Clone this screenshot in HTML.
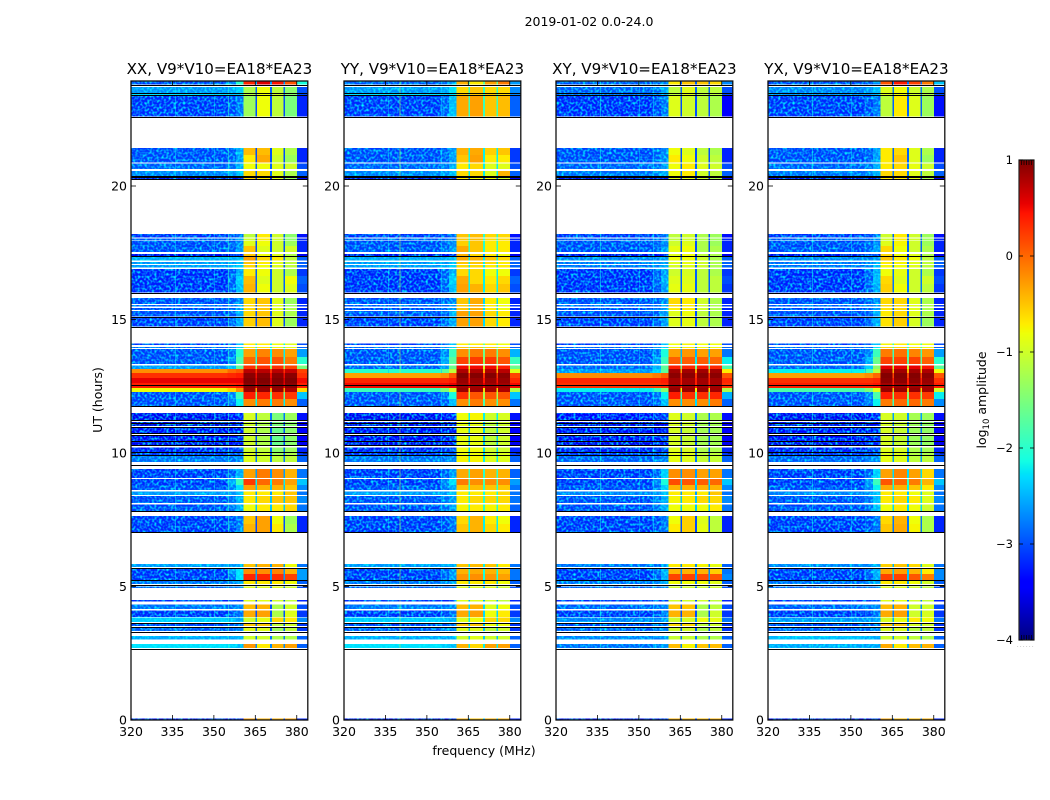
<!DOCTYPE html>
<html>
<head>
<meta charset="utf-8">
<title>2019-01-02 0.0-24.0</title>
<style>
html,body{margin:0;padding:0;background:#fff;}
svg{display:block;}
text{font-family:"DejaVu Sans","Liberation Sans",sans-serif;fill:#000;}
</style>
</head>
<body>
<svg id="figure" xmlns="http://www.w3.org/2000/svg" width="1050" height="800" viewBox="0 0 1050 800">
<defs id="figure-defs">
<filter id="speckle" x="0" y="0" width="100%" height="100%" color-interpolation-filters="sRGB">
<feTurbulence type="fractalNoise" baseFrequency="0.42" numOctaves="1" seed="7"/>
<feColorMatrix type="matrix" values="0 0 0 0 0  2.6 0 0 0 -1.1  0 0 0 0 0  0 0 0 0 1"/>
</filter>
</defs>
</svg>
<script>
const panelTitles = ["XX, V9*V10=EA18*EA23", "YY, V9*V10=EA18*EA23", "XY, V9*V10=EA18*EA23", "YX, V9*V10=EA18*EA23"];
const xTicks = [320, 335, 350, 365, 380];
const yTicks = [0, 5, 10, 15, 20];
const colorbarTicks = [1, 0, -1, -2, -3, -4];
const freqEdges = [320, 355, 358, 360.7, 365, 365.7, 370.4, 371, 375.2, 375.8, 380, 384];
const freqColumn = [0, 1, 2, 3, 7, 4, 7, 5, 7, 6, 8];
const rowFromUT = [23.80,23.48,23.41,22.60,21.16,20.88,20.64,20.37,20.26,18.07,17.96,17.75,17.53,17.38,17.21,17.08,16.95,16.63,16.33,16.01,15.58,15.49,15.36,15.12,14.74,14.04,13.93,13.60,13.33,13.15,13.00,12.81,12.62,12.43,12.28,12.02,11.76,11.24,11.01,10.75,10.45,10.30,10.04,9.93,9.67,9.06,8.80,8.61,8.43,8.13,7.83,7.34,7.04,5.73,5.47,5.24,5.09,4.94,4.44,4.16,3.86,3.67,3.52,3.33,3.01,2.70,0];
const rowToUT = [23.93,23.71,23.46,23.39,21.42,21.16,20.84,20.56,20.33,18.20,18.03,17.94,17.75,17.45,17.34,17.15,17.04,16.89,16.63,16.33,15.81,15.54,15.43,15.32,15.09,14.11,13.97,13.90,13.60,13.28,13.15,13.00,12.81,12.62,12.43,12.28,12.02,11.50,11.16,10.97,10.67,10.43,10.21,10.00,9.89,9.40,9.03,8.80,8.55,8.39,8.07,7.64,7.34,5.84,5.69,5.47,5.21,5.00,4.49,4.32,4.10,3.84,3.63,3.46,3.15,2.85,0.06];
const flaggedUT = [23.78,23.47,23.41,22.60,20.39,20.34,20.26,17.38,16.00,15.11,14.73,12.53,11.75,11.22,11.12,10.97,10.74,10.69,10.45,10.29,10.03,9.93,9.56,7.83,7.03,5.71,5.24,5.06,3.65,3.48,3.31,2.67];
const streakFreqs = [[336,350,355.2],[336,340,355.2],[336,350,355.2],[336,350,355.2]];
const streakLevels = [[-2.3,-2.5,-2.0],[-2.4,-1.2,-2.4],[-2.2,-2.5,-2.3],[-2.2,-2.4,-2.7]];
const amplitudeXX = [
[-3.1,-2.8,-2.0,.35,.6,.45,.1,-2.6,-2.1],[-2.7,-2.6,-2.4,-1.2,-.8,-1.1,-1.4,-2.9,-3.0],[-2.3,-2.4,-2.4,-1.1,-.8,-1.0,-1.4,-2.9,-3.0],[-3.2,-3.1,-2.9,-1.3,-.8,-1.1,-1.5,-3.0,-3.2],
[-3.1,-3.0,-2.6,-.45,-.45,-.9,-1.2,-3.0,-3.2],[-3.1,-3.0,-2.7,-.7,-.35,-1.0,-1.3,-3.0,-3.2],[-3.0,-2.9,-2.6,-.8,-.8,-.9,-1.0,-2.9,-3.0],[-2.8,-2.7,-2.5,-.6,-.6,-.9,-1.2,-2.9,-2.9],[-3.5,-3.4,-3.3,-.6,-.7,-.9,-1.3,-3.2,-3.5],
[-3.2,-3.1,-2.9,-1.1,-.7,-1.0,-1.4,-2.9,-3.3],[-3.0,-3.0,-2.8,-1.0,-.7,-1.0,-1.4,-2.9,-3.2],[-3.1,-3.0,-2.8,-.9,-.8,-1.0,-1.3,-3.0,-3.2],[-3.1,-3.0,-2.7,-.5,-.9,-1.0,-1.0,-3.0,-3.2],[-3.5,-3.4,-3.3,-.5,-.8,-.9,-1.2,-3.2,-3.5],
[-2.6,-2.6,-2.5,-.3,-.6,-.7,-1.1,-2.9,-2.9],[-2.7,-2.7,-2.5,-.5,-.7,-.9,-1.1,-2.9,-2.9],[-2.7,-2.6,-2.4,-.6,-.8,-.9,-1.1,-2.9,-2.9],[-3.25,-3.0,-2.6,-.7,-.8,-1.0,-1.2,-2.9,-3.1],[-3.25,-3.0,-2.4,-.45,-.9,-1.0,-.8,-2.9,-2.9],[-3.25,-3.0,-2.5,-.4,-.8,-1.0,-.9,-2.9,-3.0],
[-3.1,-3.0,-2.8,-.6,-.5,-.9,-1.3,-3.0,-3.2],[-3.0,-2.9,-2.7,-.6,-.5,-.9,-1.3,-3.0,-3.1],[-3.1,-3.0,-2.7,-.6,-.5,-.9,-1.2,-3.0,-3.2],[-3.1,-3.0,-2.6,-.6,-.5,-.9,-1.2,-3.0,-3.2],[-3.2,-3.0,-2.6,-.55,-.45,-.9,-1.3,-3.0,-3.2],
[-3.2,-3.0,-2.5,-.7,-.7,-.8,-.9,-2.2,-3.0],[-3.0,-2.9,-2.4,-.7,-.7,-.8,-.9,-2.2,-2.9],[-3.1,-2.9,-2.0,-.3,-.15,-.2,-.3,-2.2,-2.6],[-3.1,-2.8,-1.8,0,.1,.1,-.1,-2.0,-2.0],[-2.7,-2.5,-1.7,.3,.3,.3,.2,-1.4,-1.5],
[-.2,0,.1,.75,.75,.75,.7,.3,.2],[.3,.35,.4,.95,.95,.95,.95,.5,.3],[.55,.55,.55,1,1,1,1,.6,.5],[.4,.4,.45,.95,.95,.95,.95,.55,.4],[-.8,-.6,-.2,.9,.9,.9,.8,-.3,-.6],[-3.1,-2.8,-1.9,.4,.35,.3,.25,-1.6,-2.4],[-3.1,-2.9,-2.2,-.2,-.1,-.1,-.2,-2.2,-2.9],
[-3.5,-3.4,-3.3,-.95,-1.1,-1.5,-1.3,-2.8,-3.3],[-3.55,-3.5,-3.4,-1.0,-1.2,-1.5,-1.4,-3.0,-3.5],[-3.45,-3.4,-3.3,-1.0,-1.2,-1.6,-1.4,-3.0,-3.4],[-3.4,-3.3,-3.2,-1.0,-1.2,-1.6,-1.4,-3.0,-3.4],[-3.5,-3.4,-3.3,-1.0,-1.2,-1.6,-1.4,-3.0,-3.5],[-3.3,-3.2,-3.1,-1.0,-1.1,-1.4,-1.3,-2.9,-3.2],[-3.2,-3.1,-3.0,-.9,-1.0,-1.3,-1.2,-2.9,-3.1],[-2.9,-2.9,-2.8,-.9,-1.0,-1.1,-1.1,-2.8,-2.9],
[-3.2,-3.0,-2.6,-.3,-.1,-.2,-.4,-2.6,-2.8],[-3.2,-2.6,-1.9,.25,0,-.1,-.3,-2.2,-2.4],[-3.1,-2.8,-2.3,-.3,-.4,-.4,-.5,-2.4,-2.7],[-2.7,-2.7,-2.5,-.7,-.7,-.7,-.5,-2.6,-2.8],[-3.1,-2.9,-2.6,-.7,-.6,-.5,-.5,-2.4,-2.7],[-3.1,-2.9,-2.6,-.8,-.7,-.7,-.6,-2.4,-2.8],
[-3.2,-3.1,-2.9,-.5,-.3,-.8,-1.3,-3.0,-3.2],[-3.2,-3.1,-2.8,-.4,-.3,-.7,-1.2,-3.0,-3.2],
[-2.7,-2.7,-2.6,-.5,-.4,-.4,-.8,-2.6,-2.8],[-3.2,-2.7,-2.3,-.2,-.2,-.15,-.4,-2.6,-2.6],[-3.2,-2.9,-2.3,.35,.35,.3,.2,-2.6,-2.6],[-2.9,-2.8,-2.6,-.7,-.7,-.7,-.8,-2.8,-2.9],[-3.0,-2.9,-2.8,-.9,-.9,-.9,-1.0,-2.9,-3.0],
[-3.2,-3.2,-3.1,-.9,-.9,-1.0,-1.1,-3.0,-3.2],[-2.9,-2.9,-2.8,-.45,-.4,-1.2,-1.0,-3.0,-3.0],[-3.2,-3.1,-2.9,-.35,-.3,-1.2,-.9,-3.0,-3.1],[-2.4,-2.5,-2.6,-1.0,-.85,-.6,-.7,-2.6,-2.7],[-3.1,-3.0,-2.9,-.5,-.5,-1.1,-1.0,-2.9,-3.1],[-3.0,-2.9,-2.8,-.9,-.9,-1.3,-1.1,-3.0,-3.1],[-2.6,-2.6,-2.6,-1.0,-1.0,-1.2,-1.2,-2.8,-2.9],[-2.3,-2.4,-2.5,-.25,-.7,-.4,-.3,-2.7,-2.9],
[-3.5,-3.4,-3.3,-.3,-.4,-.4,-.3,-3.0,-3.2]
];
const amplitudeYY = [
[-3.0,-2.9,-2.7,-.4,-.7,-.3,-.1,-1.6,-2.6],[-2.7,-2.6,-2.3,-.6,-.5,-.6,-.6,-2.0,-2.7],[-2.3,-2.4,-2.3,-.5,-.5,-.5,-.6,-2.0,-2.7],[-3.2,-3.0,-2.5,-.35,-.3,-.5,-.45,-1.9,-2.9],
[-3.1,-3.0,-2.7,-.4,-.35,-.55,-.5,-2.2,-3.1],[-3.1,-3.0,-2.7,-.5,-.3,-.7,-.7,-2.2,-3.1],[-3.0,-2.9,-2.6,-.7,-.6,-.9,-.9,-2.2,-3.0],[-2.8,-2.7,-2.5,-.6,-.6,-.9,-.4,-2.2,-2.9],[-3.5,-3.4,-3.3,-.7,-.8,-.8,-1.0,-2.8,-3.5],
[-3.2,-3.1,-2.9,-.5,-.45,-.6,-.6,-2.0,-3.3],[-3.0,-3.0,-2.8,-.5,-.45,-.6,-.6,-2.0,-3.2],[-3.1,-3.0,-2.8,-.55,-.5,-.7,-.7,-2.0,-3.2],[-3.1,-3.0,-2.7,-.35,-.5,-.7,-.7,-2.0,-3.2],[-3.5,-3.4,-3.3,-.4,-.6,-.7,-.8,-2.6,-3.5],
[-2.6,-2.6,-2.5,-.35,-.4,-.5,-.6,-2.2,-2.9],[-2.7,-2.7,-2.5,-.5,-.5,-.6,-.7,-2.2,-2.9],[-2.7,-2.6,-2.4,-.6,-.6,-.7,-.7,-2.2,-2.9],[-3.25,-3.0,-2.6,-.6,-.6,-.8,-.8,-2.2,-3.1],[-3.25,-3.0,-2.4,-.35,-.6,-.7,-.6,-2.2,-2.9],[-3.25,-3.0,-2.5,-.3,-.4,-.6,-.5,-2.2,-3.0],
[-3.1,-3.0,-2.8,-.5,-.35,-.7,-.8,-2.3,-3.2],[-3.0,-2.9,-2.7,-.5,-.35,-.7,-.8,-2.3,-3.1],[-3.1,-3.0,-2.7,-.5,-.4,-.7,-.8,-2.3,-3.2],[-3.1,-3.0,-2.6,-.3,-.3,-.6,-.7,-2.3,-3.2],[-3.2,-3.0,-2.6,-.3,-.3,-.6,-.7,-2.3,-3.2],
[-3.2,-3.0,-2.5,-.7,-.7,-.7,-.8,-1.6,-3.0],[-3.0,-2.9,-2.4,-.5,-.5,-.6,-.7,-1.6,-2.9],[-3.1,-2.8,-1.9,-.2,-.1,-.1,-.2,-1.6,-2.5],[-3.1,-2.6,-1.7,.2,.25,.25,.1,-1.4,-1.9],[-3.0,-2.7,-1.6,.5,.5,.5,.4,-1.0,-1.6],
[-2.0,-1.7,-1.1,.8,.8,.8,.75,-.4,-.9],[-.3,-.2,.1,.98,.98,.98,.95,.3,.2],[.35,.35,.4,.9,.9,.9,.9,.45,.35],[.5,.5,.55,.85,.85,.85,.85,.55,.5],[-1.9,-1.5,-1.0,.9,.85,.85,.8,-.6,-1.2],[-3.1,-2.9,-2.1,.3,.1,.1,.1,-1.2,-2.4],[-3.1,-3.0,-2.5,-.2,-.1,-.2,-.2,-1.8,-2.8],
[-3.5,-3.4,-3.3,-.8,-.75,-1.0,-.95,-2.2,-3.3],[-3.5,-3.5,-3.4,-.85,-.85,-1.1,-1.0,-2.4,-3.5],[-3.45,-3.4,-3.3,-.85,-.85,-1.1,-1.0,-2.4,-3.4],[-3.4,-3.3,-3.2,-.85,-.85,-1.1,-1.0,-2.4,-3.4],[-3.5,-3.4,-3.3,-.85,-.85,-1.1,-1.0,-2.4,-3.5],[-3.3,-3.2,-3.1,-.8,-.8,-1.0,-1.0,-2.3,-3.2],[-3.2,-3.1,-3.0,-.8,-.8,-1.0,-.9,-2.3,-3.1],[-2.9,-2.9,-2.8,-.75,-.75,-.9,-.9,-2.2,-2.9],
[-3.2,-3.0,-2.7,-.35,-.3,-.4,-.4,-2.0,-2.9],[-3.2,-2.8,-2.3,-.1,-.2,-.2,-.2,-1.8,-2.6],[-3.1,-2.9,-2.6,-.5,-.45,-.5,-.5,-2.0,-2.8],[-2.7,-2.7,-2.5,-.7,-.7,-.7,-.6,-2.1,-2.8],[-3.1,-2.9,-2.7,-.7,-.6,-.6,-.6,-2.0,-2.8],[-3.1,-2.9,-2.7,-.75,-.7,-.75,-.7,-2.0,-2.9],
[-3.2,-3.1,-2.9,-.6,-.4,-.7,-.8,-2.2,-3.2],[-3.2,-3.1,-2.9,-.5,-.4,-.6,-.7,-2.2,-3.2],
[-2.7,-2.7,-2.6,-.5,-.45,-.5,-.7,-2.2,-2.8],[-3.2,-3.0,-2.7,-.4,-.35,-.4,-.45,-2.1,-2.8],[-3.2,-3.0,-2.7,-.25,-.2,-.25,-.3,-2.1,-2.8],[-2.9,-2.8,-2.6,-.7,-.7,-.7,-.8,-2.4,-2.9],[-3.0,-2.9,-2.8,-.9,-.9,-.9,-1.0,-2.5,-3.0],
[-3.2,-3.2,-3.1,-.9,-.9,-1.0,-1.1,-2.5,-3.2],[-2.9,-2.9,-2.8,-.45,-.4,-.9,-.8,-2.3,-3.0],[-3.2,-3.1,-2.9,-.35,-.3,-.8,-.7,-2.3,-3.1],[-2.4,-2.5,-2.6,-.9,-.8,-.6,-.6,-2.2,-2.7],[-3.1,-3.0,-2.9,-.5,-.5,-.8,-.8,-2.4,-3.1],[-3.0,-2.9,-2.8,-.9,-.9,-1.1,-1.0,-2.4,-3.1],[-2.6,-2.6,-2.6,-1.0,-.9,-1.0,-1.0,-2.4,-2.9],[-2.3,-2.4,-2.5,-.4,-.6,-.3,-.3,-2.2,-2.9],
[-3.5,-3.4,-3.3,-.4,-.5,-.4,-.4,-2.4,-3.2]
];
const amplitudeXY = [
[-3.0,-3.0,-2.8,-.7,-.5,-.5,-.6,-2.9,-2.7],[-3.0,-2.9,-2.6,-1.1,-.9,-1.1,-1.1,-2.9,-3.0],[-2.9,-2.8,-2.6,-1.1,-.9,-1.1,-1.1,-2.9,-3.0],[-3.25,-3.1,-2.9,-.9,-1.0,-1.1,-1.2,-3.0,-3.4],
[-3.1,-3.0,-2.8,-.8,-.9,-1.1,-1.2,-3.0,-3.2],[-3.1,-3.0,-2.8,-.7,-.8,-1.0,-1.1,-3.0,-3.2],[-3.0,-2.9,-2.7,-.8,-.7,-.9,-1.0,-2.9,-3.0],[-2.9,-2.8,-2.6,-.8,-.7,-1.0,-1.1,-2.9,-2.9],[-3.5,-3.4,-3.3,-.9,-.9,-1.0,-1.2,-3.2,-3.5],
[-3.2,-3.1,-2.9,-1.1,-1.0,-1.2,-1.3,-3.0,-3.3],[-3.0,-3.0,-2.8,-1.1,-1.0,-1.2,-1.3,-3.0,-3.2],[-3.1,-3.0,-2.8,-1.0,-.9,-1.2,-1.3,-3.0,-3.2],[-3.1,-3.0,-2.7,-.85,-.8,-1.2,-1.2,-3.0,-3.2],[-3.5,-3.4,-3.3,-.9,-.8,-1.1,-1.2,-3.2,-3.5],
[-2.8,-2.8,-2.7,-.8,-.8,-1.0,-1.2,-2.9,-2.9],[-2.9,-2.8,-2.7,-.9,-.85,-1.0,-1.2,-2.9,-2.9],[-2.9,-2.8,-2.6,-.95,-.9,-1.0,-1.2,-2.9,-2.9],[-3.25,-3.0,-2.7,-1.0,-.95,-1.1,-1.2,-2.9,-3.1],[-3.25,-3.0,-2.6,-.9,-.9,-1.1,-1.1,-2.9,-3.0],[-3.25,-3.0,-2.7,-.85,-.85,-1.1,-1.1,-2.9,-3.1],
[-3.1,-3.0,-2.8,-.6,-.7,-1.0,-1.2,-3.0,-3.2],[-3.0,-2.9,-2.7,-.6,-.7,-1.0,-1.2,-3.0,-3.1],[-3.1,-3.0,-2.7,-.7,-.7,-1.0,-1.2,-3.0,-3.2],[-3.1,-3.0,-2.7,-.9,-.8,-1.1,-1.2,-3.0,-3.2],[-3.2,-3.0,-2.7,-.9,-.85,-1.1,-1.2,-3.0,-3.2],
[-3.2,-3.0,-2.5,-.8,-.75,-.8,-.8,-2.6,-3.0],[-3.0,-2.9,-2.4,-.8,-.75,-.8,-.8,-2.6,-2.9],[-3.1,-2.9,-2.1,-.3,-.25,-.3,-.3,-2.5,-2.8],[-3.1,-2.7,-1.9,.05,.05,.05,0,-2.2,-2.2],[-3.0,-2.6,-1.7,.4,.35,.4,.35,-1.6,-1.8],
[-2.7,-2.4,-1.7,.85,.85,.85,.85,-.3,-.7],[-.2,-.1,.05,.95,.95,.95,.95,.3,.1],[.35,.35,.4,.85,.85,.85,.85,.4,.35],[.3,.3,.35,.85,.85,.85,.85,.4,.3],[-2.2,-1.9,-1.4,.9,.9,.9,.85,-.7,-1.2],[-3.1,-2.9,-2.2,.4,.3,.3,.35,-1.8,-2.5],[-3.1,-3.0,-2.5,-.2,-.2,-.2,-.1,-2.3,-2.9],
[-3.4,-3.3,-3.2,-.9,-1.0,-1.2,-1.2,-2.8,-3.3],[-3.5,-3.5,-3.4,-.95,-1.0,-1.25,-1.25,-3.0,-3.5],[-3.45,-3.4,-3.3,-.95,-1.05,-1.25,-1.25,-3.0,-3.4],[-3.4,-3.3,-3.2,-.95,-1.05,-1.25,-1.25,-3.0,-3.4],[-3.5,-3.4,-3.3,-.95,-1.05,-1.25,-1.25,-3.0,-3.5],[-3.3,-3.2,-3.1,-.9,-.95,-1.2,-1.2,-2.9,-3.2],[-3.2,-3.1,-3.0,-.85,-.9,-1.1,-1.1,-2.9,-3.1],[-3.0,-2.9,-2.8,-.85,-.9,-1.05,-1.05,-2.8,-2.9],
[-3.2,-3.0,-2.4,-.2,-.2,-.3,-.3,-2.6,-2.8],[-3.2,-2.8,-2.1,.15,.1,.05,0,-2.3,-2.4],[-3.1,-2.9,-2.4,-.4,-.4,-.4,-.4,-2.5,-2.7],[-2.8,-2.7,-2.5,-.7,-.7,-.7,-.5,-2.6,-2.8],[-3.1,-2.9,-2.6,-.75,-.7,-.6,-.6,-2.4,-2.7],[-3.1,-2.9,-2.6,-.8,-.8,-.8,-.7,-2.4,-2.8],
[-3.2,-3.1,-2.9,-.8,-.55,-.9,-1.1,-3.0,-3.2],[-3.2,-3.1,-2.9,-.7,-.55,-.85,-1.1,-3.0,-3.2],
[-2.9,-2.9,-2.7,-.7,-.7,-.75,-.85,-2.7,-2.9],[-3.2,-3.0,-2.6,-.4,-.4,-.4,-.55,-2.7,-2.8],[-3.2,-3.0,-2.6,.2,.2,.15,.1,-2.6,-2.7],[-2.9,-2.8,-2.6,-.8,-.8,-.8,-.9,-2.8,-2.9],[-3.0,-2.9,-2.8,-1.0,-1.0,-1.0,-1.0,-2.9,-3.0],
[-3.2,-3.2,-3.1,-1.0,-1.0,-1.0,-1.1,-3.0,-3.2],[-3.0,-2.9,-2.8,-.5,-.5,-1.2,-1.1,-3.0,-3.0],[-3.2,-3.1,-2.9,-.4,-.4,-1.2,-1.0,-3.0,-3.1],[-2.8,-2.8,-2.7,-1.0,-.95,-.8,-.85,-2.7,-2.8],[-3.1,-3.0,-2.9,-.6,-.6,-1.1,-1.0,-2.9,-3.1],[-3.0,-2.9,-2.8,-1.0,-1.0,-1.2,-1.1,-3.0,-3.1],[-2.8,-2.8,-2.7,-1.05,-1.05,-1.2,-1.2,-2.8,-2.9],[-2.9,-2.8,-2.7,-.45,-.75,-.5,-.45,-2.7,-2.9],
[-3.5,-3.4,-3.3,-.4,-.45,-.45,-.4,-3.0,-3.2]
];
const amplitudeYX = [
[-3.1,-3.0,-2.7,.1,.4,.2,-.1,-2.8,-2.4],[-2.8,-2.7,-2.5,-.9,-.8,-1.0,-1.2,-2.8,-3.0],[-2.7,-2.7,-2.5,-.9,-.8,-1.0,-1.2,-2.8,-3.0],[-3.2,-3.1,-2.9,-1.1,-.7,-.9,-1.3,-2.9,-3.3],
[-3.1,-3.0,-2.7,-.7,-.6,-.9,-1.2,-2.9,-3.2],[-3.1,-3.0,-2.7,-.7,-.5,-.9,-1.3,-2.9,-3.2],[-3.0,-2.9,-2.6,-.7,-.6,-.85,-1.0,-2.8,-3.0],[-2.9,-2.8,-2.6,-.6,-.6,-.9,-1.1,-2.8,-2.9],[-3.5,-3.4,-3.3,-.7,-.7,-.9,-1.2,-3.2,-3.5],
[-3.2,-3.1,-2.9,-1.0,-.7,-1.0,-1.3,-2.9,-3.3],[-3.0,-3.0,-2.8,-1.0,-.7,-1.0,-1.3,-2.9,-3.2],[-3.1,-3.0,-2.8,-.9,-.75,-1.0,-1.3,-2.9,-3.2],[-3.1,-3.0,-2.7,-.6,-.8,-1.0,-1.2,-2.9,-3.2],[-3.5,-3.4,-3.3,-.6,-.8,-.9,-1.2,-3.2,-3.5],
[-2.8,-2.8,-2.7,-.5,-.7,-.8,-1.1,-2.8,-2.9],[-2.9,-2.8,-2.6,-.7,-.75,-.9,-1.1,-2.8,-2.9],[-2.9,-2.8,-2.5,-.75,-.8,-.9,-1.1,-2.8,-2.9],[-3.25,-3.0,-2.6,-.8,-.85,-1.0,-1.2,-2.8,-3.1],[-3.25,-3.0,-2.5,-.6,-.9,-1.0,-1.0,-2.8,-3.0],[-3.25,-3.0,-2.6,-.55,-.8,-1.0,-1.1,-2.8,-3.1],
[-3.1,-3.0,-2.8,-.6,-.6,-.9,-1.2,-2.9,-3.2],[-3.0,-2.9,-2.7,-.6,-.6,-.9,-1.2,-2.9,-3.1],[-3.1,-3.0,-2.7,-.65,-.6,-.9,-1.2,-2.9,-3.2],[-3.1,-3.0,-2.6,-.7,-.6,-.9,-1.2,-2.9,-3.2],[-3.2,-3.0,-2.6,-.65,-.55,-.95,-1.3,-2.9,-3.2],
[-3.2,-3.0,-2.5,-.75,-.7,-.8,-.8,-2.0,-3.0],[-3.0,-2.9,-2.3,-.6,-.6,-.7,-.8,-2.0,-2.9],[-3.1,-2.8,-1.9,-.1,-.05,-.15,-.25,-1.9,-2.6],[-3.1,-2.6,-1.6,.2,.2,.2,.05,-1.7,-2.0],[-3.0,-2.4,-1.4,.55,.55,.55,.45,-1.1,-1.7],
[-2.2,-1.8,-1.1,.85,.85,.85,.8,-.4,-.8],[-.3,-.2,0,.98,.98,.98,.95,.2,.1],[.3,.3,.35,.95,.95,.95,.9,.4,.3],[.4,.4,.45,.85,.85,.85,.85,.45,.4],[-1.8,-1.5,-.9,.9,.9,.9,.85,-.5,-1.0],[-3.1,-2.8,-1.8,.4,.3,.3,.25,-1.4,-2.2],[-3.1,-2.9,-2.2,-.1,0,0,-.1,-1.9,-2.7],
[-3.5,-3.4,-3.3,-.95,-1.0,-1.25,-1.3,-2.6,-3.3],[-3.5,-3.5,-3.4,-.95,-1.05,-1.3,-1.35,-2.8,-3.5],[-3.45,-3.4,-3.3,-.95,-1.05,-1.3,-1.35,-2.8,-3.4],[-3.4,-3.3,-3.2,-.95,-1.05,-1.3,-1.35,-2.8,-3.4],[-3.5,-3.4,-3.3,-.95,-1.05,-1.3,-1.35,-2.8,-3.5],[-3.3,-3.2,-3.1,-.9,-.95,-1.2,-1.25,-2.7,-3.2],[-3.2,-3.1,-3.0,-.9,-.9,-1.15,-1.2,-2.7,-3.1],[-3.0,-2.9,-2.8,-.85,-.9,-1.1,-1.1,-2.6,-2.9],
[-3.2,-3.0,-2.4,-.3,-.15,-.3,-.6,-2.3,-2.8],[-3.2,-2.7,-1.9,.1,0,-.1,-.4,-2.0,-2.4],[-3.1,-2.8,-2.2,-.35,-.4,-.5,-.7,-2.2,-2.7],[-2.8,-2.7,-2.5,-.7,-.7,-.8,-.9,-2.4,-2.8],[-3.1,-2.9,-2.5,-.7,-.6,-.7,-.9,-2.3,-2.7],[-3.1,-2.9,-2.5,-.8,-.7,-.8,-1.0,-2.3,-2.8],
[-3.2,-3.1,-2.9,-.6,-.4,-.8,-1.2,-2.8,-3.2],[-3.2,-3.1,-2.9,-.5,-.35,-.75,-1.2,-2.8,-3.2],
[-2.8,-2.8,-2.6,-.55,-.5,-.6,-.9,-2.5,-2.8],[-3.2,-3.0,-2.6,-.35,-.3,-.4,-.7,-2.4,-2.7],[-3.2,-3.0,-2.6,.2,.2,.1,-.1,-2.4,-2.7],[-2.9,-2.8,-2.6,-.7,-.7,-.8,-1.0,-2.6,-2.9],[-3.0,-2.9,-2.8,-.9,-.9,-1.0,-1.1,-2.7,-3.0],
[-3.2,-3.2,-3.1,-.9,-.9,-1.0,-1.1,-2.8,-3.2],[-3.0,-2.9,-2.8,-.45,-.4,-1.0,-1.0,-2.7,-3.0],[-3.2,-3.1,-2.9,-.35,-.3,-1.0,-.95,-2.7,-3.1],[-2.7,-2.7,-2.6,-.95,-.85,-.7,-.8,-2.5,-2.8],[-3.1,-3.0,-2.9,-.5,-.5,-.95,-1.0,-2.7,-3.1],[-3.0,-2.9,-2.8,-.95,-.95,-1.15,-1.1,-2.8,-3.1],[-2.5,-2.6,-2.6,-1.0,-1.0,-1.1,-1.2,-2.7,-2.9],[-2.6,-2.6,-2.6,-.35,-.7,-.45,-.4,-2.5,-2.9],
[-3.5,-3.4,-3.3,-.35,-.45,-.45,-.4,-2.8,-3.2]
];
const panelAmplitudes = [amplitudeXX, amplitudeYY, amplitudeXY, amplitudeYX];

const SVGNS = "http://www.w3.org/2000/svg";
const fig = document.getElementById("figure");
const defs = document.getElementById("figure-defs");
const panelLeft = [131, 344, 556, 768];
const panelWidth = 176.8, plotTop = 81, plotBottom = 720, freqMin = 320, freqMax = 384, hourPx = 26.7;
const labelFont = 12.5, titleFont = 15.1;
const xScale = (left, f) => left + (f - freqMin) / (freqMax - freqMin) * panelWidth;
const yScale = (h) => plotBottom - h * hourPx;
const cbarTop = 160, cbarBottom = 640, cbarLeft = 1019, cbarRight = 1034, vMin = -4, vMax = 1;
const cbarScale = (v) => cbarBottom - (v - vMin) / (vMax - vMin) * (cbarBottom - cbarTop);

function ramp(f, pts) {
  for (let i = 1; i < pts.length; i++) {
    if (f <= pts[i][0]) {
      const a = pts[i - 1], b = pts[i];
      return a[1] + (b[1] - a[1]) * (f - a[0]) / (b[0] - a[0]);
    }
  }
  return pts[pts.length - 1][1];
}
function jet(v) {
  const f = Math.max(0, Math.min(1, (v - vMin) / (vMax - vMin)));
  const r = ramp(f, [[0, 0], [.35, 0], [.66, 1], [.89, 1], [1, .5]]);
  const g = ramp(f, [[0, 0], [.125, 0], [.375, 1], [.64, 1], [.91, 0], [1, 0]]);
  const b = ramp(f, [[0, .5], [.11, 1], [.34, 1], [.65, 0], [1, 0]]);
  return "rgb(" + Math.round(r * 255) + "," + Math.round(g * 255) + "," + Math.round(b * 255) + ")";
}
function make(tag, attrs, parent, content) {
  const el = document.createElementNS(SVGNS, tag);
  for (const k in attrs) el.setAttribute(k, attrs[k]);
  if (content !== undefined) el.textContent = content;
  parent.appendChild(el);
  return el;
}

const supTitle = make("text", {x: 589, y: 26, "text-anchor": "middle", "font-size": labelFont}, fig, "2019-01-02 0.0-24.0");



const xTitle = make("text", {x: 484, y: 755, "text-anchor": "middle", "font-size": labelFont}, fig, "frequency (MHz)");



const yTitle = make("text", {x: 0, y: 0, transform: "translate(102 400) rotate(-90)", "text-anchor": "middle", "font-size": labelFont}, fig, "UT (hours)");



panelTitles.forEach(function (title, p) {
  const left = panelLeft[p], right = left + panelWidth;
  const group = make("g", {}, fig);
  
  

  const clip = make("clipPath", {id: "noise-clip-" + p}, defs);
  
  

  const heat = make("g", {"shape-rendering": "crispEdges"}, group);
  
  
  const matrix = panelAmplitudes[p];
  matrix.forEach(function (row, r) {
    const y0 = yScale(rowToUT[r]), y1 = yScale(rowFromUT[r]);
    freqColumn.forEach(function (col, c) {
      const x0 = xScale(left, freqEdges[c]), x1 = xScale(left, freqEdges[c + 1]);
      const cell = make("rect", {x: x0, y: y0, width: x1 - x0, height: y1 - y0, fill: jet(row[col])}, heat);
      
      
    });
    if (row[0] < -2) {
      const region = make("rect", {x: left, y: y0, width: xScale(left, freqEdges[3]) - left, height: y1 - y0}, clip);
      
      
    }
    streakFreqs[p].forEach(function (f, s) {
      if (row[0] > -2) return;
      const mark = make("rect", {x: xScale(left, f), y: y0, width: 1, height: y1 - y0, fill: jet(streakLevels[p][s]), opacity: 0.55}, heat);
      
      
    });
  });

  const noise = make("rect", {x: left, y: plotTop, width: panelWidth, height: plotBottom - plotTop, filter: "url(#speckle)", "clip-path": "url(#noise-clip-" + p + ")", style: "mix-blend-mode:screen"}, group);
  
  

  flaggedUT.forEach(function (h) {
    const line = make("rect", {x: left, y: Math.round(yScale(h)), width: panelWidth, height: 1, fill: "#000", "shape-rendering": "crispEdges"}, group);
    
    
  });

  const frame = make("rect", {x: left, y: plotTop, width: panelWidth, height: plotBottom - plotTop, fill: "none", stroke: "#111", "stroke-width": 1.3}, group);
  
  

  xTicks.forEach(function (t) {
    const x = xScale(left, t);
    const bottomTick = make("line", {x1: x, x2: x, y1: plotBottom, y2: plotBottom - 5, stroke: "#000", "stroke-width": 0.8}, group);
    
    
    const topTick = make("line", {x1: x, x2: x, y1: plotTop, y2: plotTop + 5, stroke: "#000", "stroke-width": 0.8}, group);
    
    
    const label = make("text", {x: x, y: 736, "text-anchor": "middle", "font-size": labelFont}, group, String(t));
    
    
  });
  yTicks.forEach(function (t) {
    const y = yScale(t);
    const leftTick = make("line", {x1: left, x2: left + 5, y1: y, y2: y, stroke: "#000", "stroke-width": 0.8}, group);
    
    
    const rightTick = make("line", {x1: right, x2: right - 5, y1: y, y2: y, stroke: "#000", "stroke-width": 0.8}, group);
    
    
    const label = make("text", {x: left - 4, y: y + 4.5, "text-anchor": "end", "font-size": labelFont}, group, String(t));
    
    
  });

  const heading = make("text", {x: left + panelWidth / 2, y: 74, "text-anchor": "middle", "font-size": titleFont}, group, title);
  
  
});

const cbar = make("g", {}, fig);


const cbarSteps = 240;
for (let i = 0; i < cbarSteps; i++) {
  const v0 = vMin + (vMax - vMin) * i / cbarSteps;
  const v1 = vMin + (vMax - vMin) * (i + 1) / cbarSteps;
  const step = make("rect", {x: cbarLeft, y: cbarScale(v1), width: cbarRight - cbarLeft, height: cbarScale(v0) - cbarScale(v1) + 0.5, fill: jet((v0 + v1) / 2), "shape-rendering": "crispEdges"}, cbar);
  
  
}
const cbarFrame = make("rect", {x: cbarLeft, y: cbarTop, width: cbarRight - cbarLeft, height: cbarBottom - cbarTop, fill: "none", stroke: "#222", "stroke-width": 1.2}, cbar);


colorbarTicks.forEach(function (t) {
  const y = cbarScale(t);
  const tickL = make("line", {x1: cbarLeft, x2: cbarLeft + 4, y1: y, y2: y, stroke: "#000", "stroke-width": 0.8}, cbar);
  
  
  const tickR = make("line", {x1: cbarRight, x2: cbarRight - 4, y1: y, y2: y, stroke: "#000", "stroke-width": 0.8}, cbar);
  
  
  const label = make("text", {x: 1013, y: y + 4, "text-anchor": "end", "font-size": 11.5}, cbar, String(t).replace("-", "\u2212"));
  
  
});
for (let i = 1; i <= 5; i++) {
  const x = cbarLeft + (cbarRight - cbarLeft) * i / 6;
  const topMinor = make("line", {x1: x, x2: x, y1: cbarTop, y2: cbarTop + 5, stroke: "#000", "stroke-width": 0.7}, cbar);
  
  
  const bottomMinor = make("line", {x1: x, x2: x, y1: cbarBottom, y2: cbarBottom - 5, stroke: "#000", "stroke-width": 0.7}, cbar);
  
  
}
const cbarDots = make("text", {x: 1026, y: 647, "text-anchor": "middle", "font-size": 5, "letter-spacing": "1.4", style: "fill:#777"}, cbar, "......");



const cbarTitle = make("text", {transform: "translate(986 400) rotate(-90)", "text-anchor": "middle", "font-size": labelFont}, cbar);


const logPart = make("tspan", {}, cbarTitle, "log");


const basePart = make("tspan", {dy: 3, "font-size": 8.5}, cbarTitle, "10");


const ampPart = make("tspan", {dy: -3}, cbarTitle, " amplitude");


</script>
</body>
</html>
